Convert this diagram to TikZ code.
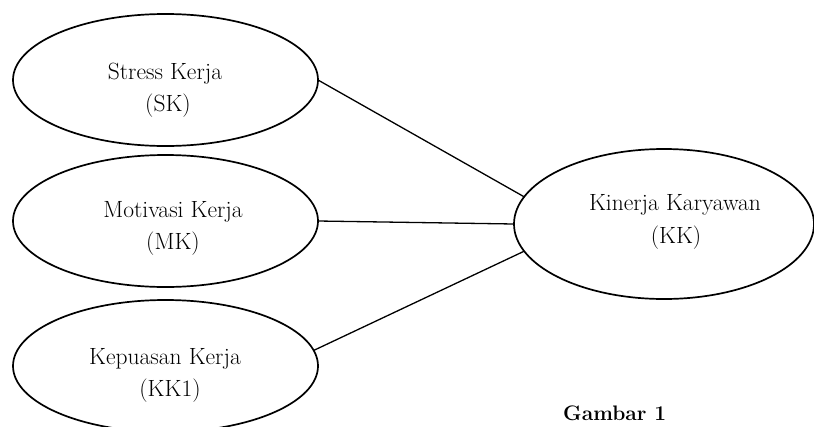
\documentclass[tikz,border=0pt]{standalone}
\usetikzlibrary{shapes.geometric}
\begin{document}
\begin{tikzpicture}[x=1pt,y=-1pt,
  oval/.style={ellipse, draw, line width=1.7pt, outer sep=0pt, inner sep=0pt},
  lbl/.style={anchor=base, inner sep=0pt, font=\fontsize{23.5}{28}\selectfont},
  link/.style={line width=1.3pt}]
\useasboundingbox[fill=white] (0,0) rectangle (814,426);
% ellipses
\node[oval, minimum width=305pt, minimum height=132pt] (sk) at (165.5,80) {};
\node[oval, minimum width=305pt, minimum height=132pt] (mk) at (165.5,221) {};
\node[oval, minimum width=305pt, minimum height=132pt] (kk1) at (165.5,366) {};
\node[oval, minimum width=300pt, minimum height=150pt] (kk) at (664,224) {};
% labels
\node[lbl] (sk-a) at (165,79) {Stress Kerja};
\node[lbl] (sk-b) at (168,111) {(SK)};
\node[lbl] (mk-a) at (173,217) {Motivasi Kerja};
\node[lbl] (mk-b) at (173,249) {(MK)};
\node[lbl] (kk1-a) at (165,364) {Kepuasan Kerja};
\node[lbl] (kk1-b) at (170,396) {(KK1)};
\node[lbl] (kk-a) at (675,210) {Kinerja Karyawan};
\node[lbl] (kk-b) at (676,243) {(KK)};
\node[anchor=base west, inner sep=0pt, font=\fontsize{21}{25}\selectfont\bfseries] (cap) at (563,420) {Gambar 1};
% connectors
\draw[link] (sk.east) -- (kk.169);
\draw[link] (mk.east) -- (kk.west);
\draw[link] (kk1.6) -- (kk.191);
\end{tikzpicture}
\end{document}
